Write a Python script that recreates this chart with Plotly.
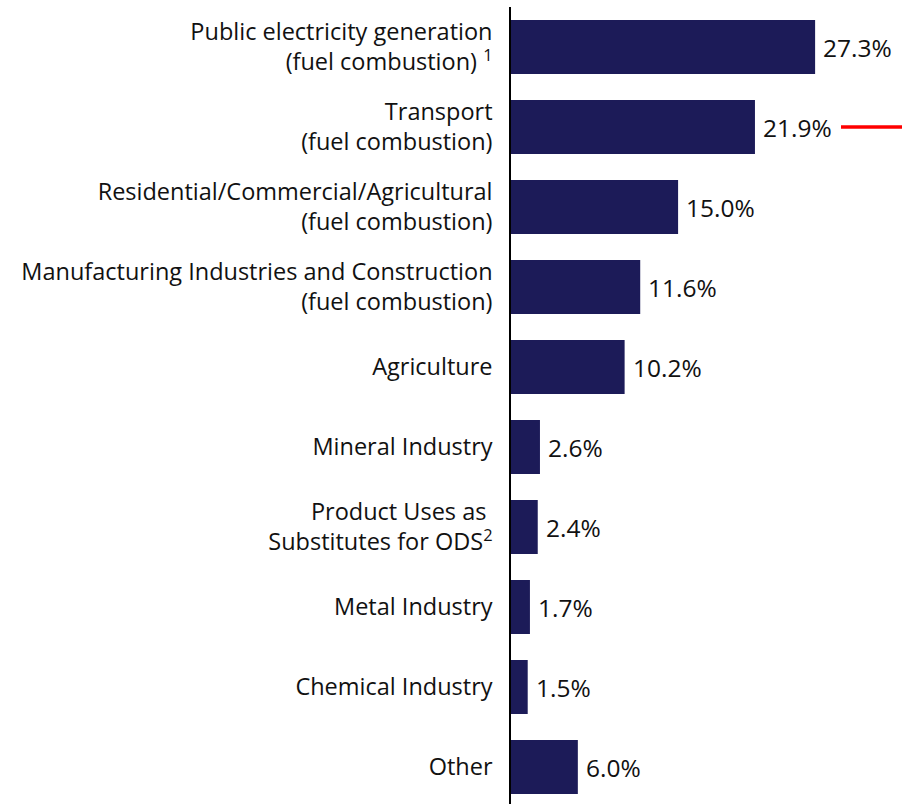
import plotly.graph_objects as go

# Share of emissions by source category
categories = [
    "Public electricity generation<br>(fuel combustion) <sup>1</sup>",
    "Transport<br>(fuel combustion)",
    "Residential/Commercial/Agricultural<br>(fuel combustion)",
    "Manufacturing Industries and Construction<br>(fuel combustion)",
    "Agriculture",
    "Mineral Industry",
    "Product Uses as\u00a0<br>Substitutes for ODS<sup>2</sup>",
    "Metal Industry",
    "Chemical Industry",
    "Other",
]
shares = [27.3, 21.9, 15.0, 11.6, 10.2, 2.6, 2.4, 1.7, 1.5, 6.0]
share_labels = [f"{v:.1f}%" for v in shares]

BAR_COLOR = "#1c1b58"
FONT = "Open Sans, Noto Sans, sans-serif"
SIZE = 23.5
VALUE_SIZE = 24.5

fig = go.Figure(
    go.Bar(
        x=shares,
        y=categories,
        orientation="h",
        marker=dict(color=BAR_COLOR, line=dict(width=0)),
        width=0.675,
        hoverinfo="skip",
    )
)

# value labels placed just past each bar end
for cat, v, lab in zip(categories, shares, share_labels):
    fig.add_annotation(
        x=v, y=cat, text=lab, showarrow=False,
        xanchor="left", xshift=6, yanchor="middle",
        font=dict(family=FONT, size=VALUE_SIZE, color="#111111"),
    )

# red marker line beside the Transport value
fig.add_shape(
    type="line", xref="paper", yref="y",
    x0=0.844, x1=1.0, y0=categories[1], y1=categories[1],
    line=dict(color="#ff0000", width=3.5),
)

fig.update_layout(
    width=902, height=804,
    margin=dict(l=511, r=0, t=7, b=0),
    paper_bgcolor="white", plot_bgcolor="white",
    showlegend=False,
    font=dict(family=FONT, size=SIZE, color="#111111"),
    xaxis=dict(range=[0, 35.1], visible=False, fixedrange=True),
    yaxis=dict(
        range=[9.4625, -0.5],
        showline=True, linecolor="#000000", linewidth=1.5,
        showgrid=False, zeroline=False,
        ticks="", ticklabelstandoff=12,
        tickfont=dict(family=FONT, size=SIZE, color="#111111"),
        fixedrange=True,
    ),
)

fig.write_html("out.html")
